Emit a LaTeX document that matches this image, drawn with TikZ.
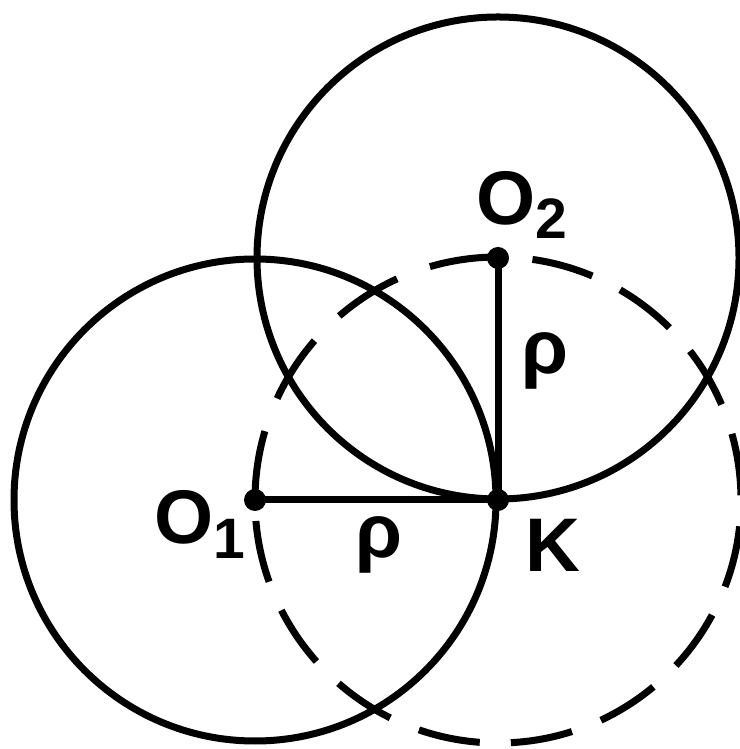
\documentclass[tikz,border=0pt]{standalone}
\usepackage{fontspec}
\setmainfont{Liberation Sans}
\begin{document}
\begin{tikzpicture}[x=1pt,y=1pt,
  solidcirc/.style={draw=black, line width=7pt},
  dashcirc/.style={draw=black, line width=7pt},
  seg/.style={draw=black, line width=7pt},
  dotnode/.style={circle, fill=black, inner sep=0pt, minimum size=22pt},
  lbl/.style={font=\fontsize{76}{80}\selectfont\bfseries, inner sep=0pt, text=black}]
\useasboundingbox (0,0) rectangle (739,749);
% dashed circle centred at K through O1 and O2
\draw[dashcirc, dash pattern=on 69pt off 35pt] (498,249) ++(0,243) arc[start angle=90, end angle=180, radius=243];
\draw[dashcirc, dash pattern=on 62.3pt off 31.1pt, dash phase=72.4pt] (498,249) ++(-243,0) arc[start angle=180, end angle=450, radius=243];
% solid circles
\draw[solidcirc] (255,249) circle[radius=241];
\draw[solidcirc] (498,491) circle[radius=241];
% points
\node[dotnode] (O1) at (255,249) {};
\node[dotnode] (K) at (498,249) {};
\node[dotnode] (O2) at (498,491) {};
\draw[seg] (O1.center) -- (K.center);
\draw[seg] (O2.center) -- (K.center);
% labels
\node[lbl, anchor=base west] (lO1) at (154.6,205) {O\raisebox{-15pt}{\fontsize{57}{60}\selectfont 1}};
\node[lbl, anchor=base west] (lO2) at (476.6,524) {O\raisebox{-14pt}{\fontsize{57}{60}\selectfont 2}};
\node[lbl, anchor=base] (r1) at (545,375.5) {ρ};
\node[lbl, anchor=base] (r2) at (379,191.5) {ρ};
\node[lbl, anchor=base] (lK) at (553,177) {K};
\end{tikzpicture}
\end{document}
